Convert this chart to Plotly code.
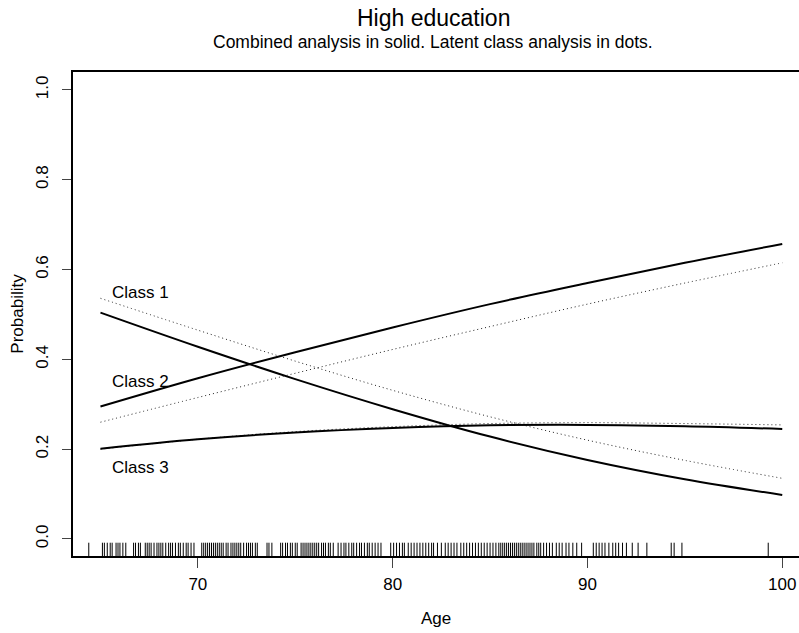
import plotly.graph_objects as go

# Curve ages and predicted probabilities
ages = [65, 70, 75, 80, 85, 90, 95, 100]
class1_solid = [0.504, 0.428, 0.356, 0.289, 0.228, 0.176, 0.133, 0.098]
class1_dots = [0.536, 0.465, 0.396, 0.331, 0.272, 0.220, 0.175, 0.135]
class2_solid = [0.295, 0.358, 0.416, 0.471, 0.523, 0.570, 0.615, 0.657]
class2_dots = [0.260, 0.315, 0.369, 0.422, 0.473, 0.523, 0.570, 0.615]
class3_solid = [0.201, 0.222, 0.237, 0.247, 0.253, 0.254, 0.251, 0.245]
class3_dots = [0.200, 0.222, 0.239, 0.250, 0.257, 0.259, 0.257, 0.254]

class_labels = ["Class 1", "Class 2", "Class 3"]
label_y = [0.55, 0.35, 0.16]
label_x = 65.5

# Observed ages (rug)
rug_ages = [
    64.4,
    65.1, 65.2, 65.35, 65.5, 65.6, 65.8, 65.9, 66.0, 66.15, 66.3, 66.7, 66.8, 66.95, 67.05,
    67.3, 67.4, 67.5, 67.6, 67.75, 67.9, 68.0, 68.1, 68.2, 68.35, 68.5, 68.6, 68.7, 68.85,
    69.0, 69.1, 69.25, 69.4, 69.5, 69.65, 69.8,
    70.2, 70.3, 70.4, 70.5, 70.6, 70.7, 70.8, 70.9, 71.0, 71.1, 71.2, 71.3, 71.45, 71.55,
    71.7, 71.8, 71.9, 72.0, 72.1, 72.2, 72.35, 72.5, 72.6, 72.7, 72.8, 72.95, 73.05,
    73.55, 73.65, 73.8, 74.25, 74.35, 74.5, 74.6, 74.75, 74.85, 75.0, 75.1,
    75.3, 75.4, 75.5, 75.6, 75.7, 75.8, 75.9, 76.0, 76.1, 76.2, 76.35, 76.45, 76.55, 76.7,
    76.8, 76.95,
    77.2, 77.35, 77.5, 77.6, 77.75, 77.9, 78.0, 78.15, 78.3, 78.4, 78.55, 78.7, 78.8, 78.95,
    79.1, 79.25, 79.4,
    79.9, 80.05, 80.2, 80.35, 80.5, 80.6, 80.8, 80.95, 81.1, 81.25, 81.4, 81.55, 81.7, 81.85,
    82.0, 82.1, 82.3, 82.5, 82.7, 82.85, 83.0, 83.15, 83.3, 83.5, 83.65, 83.8, 83.95, 84.1,
    84.25, 84.4, 84.55, 84.7, 84.85, 85.0, 85.15, 85.3,
    85.45, 85.55, 85.65, 85.75, 85.85, 85.95, 86.05, 86.15, 86.25, 86.35, 86.45, 86.55,
    86.65, 86.75, 86.85, 86.95, 87.05, 87.15, 87.25, 87.4, 87.5, 87.6, 87.75, 87.9,
    88.05, 88.2, 88.4, 88.55, 88.7, 88.9, 89.05, 89.25, 89.45, 89.7,
    90.3, 90.45, 90.6, 90.75, 90.9, 91.1, 91.3, 91.45, 91.6, 91.8, 92.0, 92.3, 92.6, 93.05,
    94.3, 94.45, 94.85,
    99.28,
]

x_ticks = [70, 80, 90, 100]
y_ticks = [0.0, 0.2, 0.4, 0.6, 0.8, 1.0]

X_RANGE = [63.59, 100.86]
Y_RANGE = [-0.038, 1.04]
RUG_LEN = 0.0296
FONT = "Liberation Sans, Arial, Helvetica"

fig = go.Figure()

for solid, dots in [(class1_solid, class1_dots), (class2_solid, class2_dots), (class3_solid, class3_dots)]:
    fig.add_trace(go.Scatter(x=ages, y=dots, mode="lines",
                             line=dict(color="#222", width=1, dash="1px,3px", shape="spline", smoothing=1.0),
                             showlegend=False, hoverinfo="skip"))
    fig.add_trace(go.Scatter(x=ages, y=solid, mode="lines",
                             line=dict(color="black", width=2, shape="spline", smoothing=1.0),
                             showlegend=False, hoverinfo="skip"))

rx, ry = [], []
for a in rug_ages:
    rx += [a, a, None]
    ry += [Y_RANGE[0], Y_RANGE[0] + RUG_LEN, None]
fig.add_trace(go.Scatter(x=rx, y=ry, mode="lines", line=dict(color="black", width=1),
                         showlegend=False, hoverinfo="skip"))

for lab, yy in zip(class_labels, label_y):
    fig.add_annotation(x=label_x, y=yy, text=lab, showarrow=False, xanchor="left", yanchor="middle",
                       font=dict(family=FONT, size=17, color="black"))

fig.add_annotation(xref="paper", yref="paper", x=0.496, y=1.0, yshift=54, text="High education",
                   showarrow=False, xanchor="center", yanchor="middle",
                   font=dict(family=FONT, size=23, color="black"))
fig.add_annotation(xref="paper", yref="paper", x=0.496, y=1.0, yshift=30,
                   text="Combined analysis in solid. Latent class analysis in dots.",
                   showarrow=False, xanchor="center", yanchor="middle",
                   font=dict(family=FONT, size=17.5, color="black"))

fig.update_layout(
    width=799, height=633,
    margin=dict(l=73, r=0, t=72, b=77),
    paper_bgcolor="white", plot_bgcolor="white",
    font=dict(family=FONT, size=17, color="black"),
    xaxis=dict(range=X_RANGE, tickvals=x_ticks, ticks="outside", ticklen=10, tickwidth=1,
               tickfont=dict(size=17), showline=True, linecolor="black", linewidth=2, mirror=True,
               showgrid=False, zeroline=False, ticklabelstandoff=2,
               title=dict(text="Age", standoff=19, font=dict(size=17))),
    yaxis=dict(range=Y_RANGE, tickvals=y_ticks, tickformat=".1f", ticks="outside", ticklen=9,
               tickwidth=1, tickangle=-90, tickfont=dict(size=17), showline=True, linecolor="black",
               linewidth=2, showgrid=False, zeroline=False, ticklabelstandoff=7,
               title=dict(text="Probability", standoff=5, font=dict(size=17))),
)

fig.write_html("out.html")
